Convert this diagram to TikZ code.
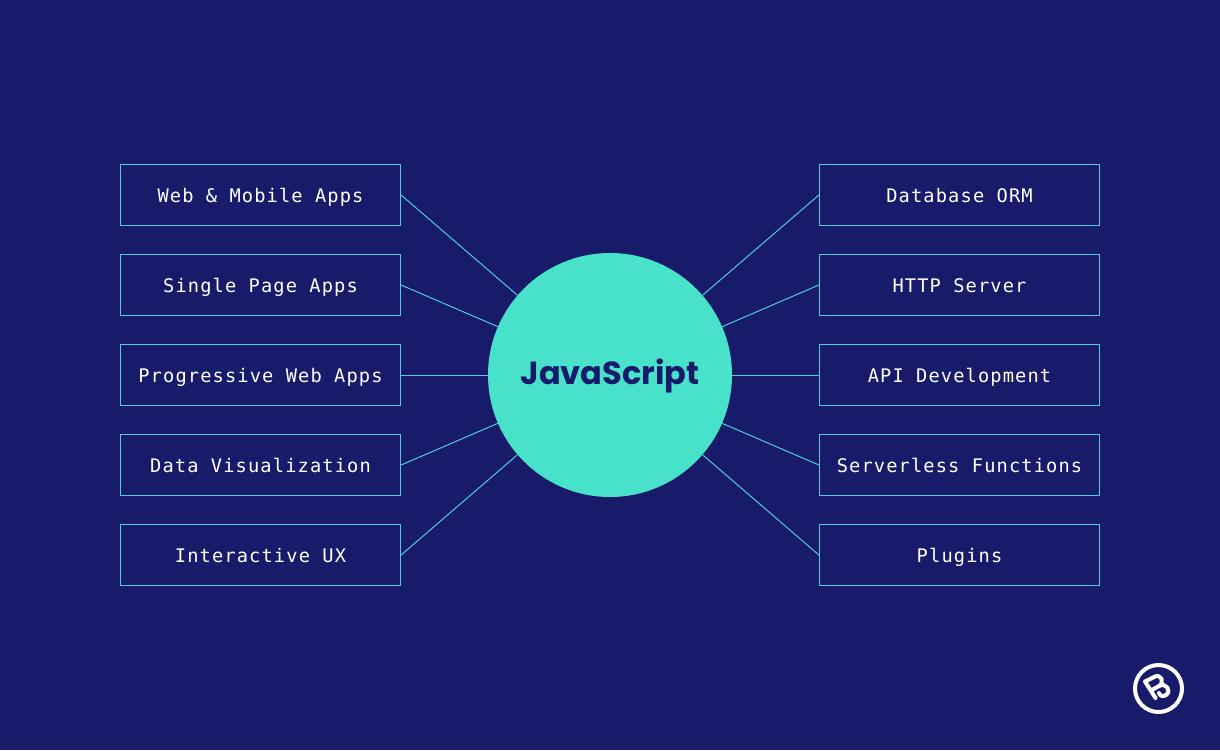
\documentclass[tikz,border=0pt]{standalone}
\usepackage{fontspec}
\usepackage{tikz}
\setmonofont[LetterSpace=6]{DejaVu Sans Mono}
\newfontfamily\hubfont{Poppins}
\definecolor{navy}{HTML}{171B69}
\definecolor{teal}{HTML}{48E2CB}
\definecolor{wire}{HTML}{4FCBDC}
\tikzset{
  box/.style={draw=wire, line width=1.2pt, minimum width=280pt, minimum height=61pt, inner sep=0pt,
    text height=15.5pt, text depth=0.5pt, text=white, font=\fontsize{18.7}{20}\selectfont\ttfamily},
  hub/.style={circle, fill=teal, minimum size=244pt, inner sep=0pt, text=navy, text height=24pt, text depth=6pt,
    font=\fontsize{32}{36}\selectfont\hubfont\bfseries},
  wireline/.style={draw=wire, line width=1pt}
}
\begin{document}
\begin{tikzpicture}[x=1pt,y=-1pt]
  \fill[navy] (0,0) rectangle (1220,750);
  \useasboundingbox (0,0) rectangle (1220,750);
  \node[hub] (hub) at (610,375) {JavaScript};
  \foreach \i/\t in {1/Web \& Mobile Apps,2/Single Page Apps,3/Progressive Web Apps,4/Data Visualization,5/Interactive UX}{
    \node[box] (left\i) at (260.5,105+90*\i) {\t};
    \draw[wireline] (left\i.east) -- (hub);}
  \foreach \i/\t in {1/Database ORM,2/HTTP Server,3/API Development,4/Serverless Functions,5/Plugins}{
    \node[box] (right\i) at (959.5,105+90*\i) {\t};
    \draw[wireline] (right\i.west) -- (hub);}
  % logo
  \node[circle, draw=white, line width=4pt, minimum size=47pt, inner sep=0pt] (logo) at (1158.5,688.5) {};
  \draw[white, line width=4pt, line join=round, line cap=round]
    (1155.5,698) -- (1145,681.5) -- (1155,676.5) .. controls (1161,674) and (1165,682) .. (1159,686) -- (1151,690.5)
    (1159,686) .. controls (1166,682) and (1172,691) .. (1166,695) .. controls (1163,697) and (1160,696) .. (1159,693);
\end{tikzpicture}
\end{document}
